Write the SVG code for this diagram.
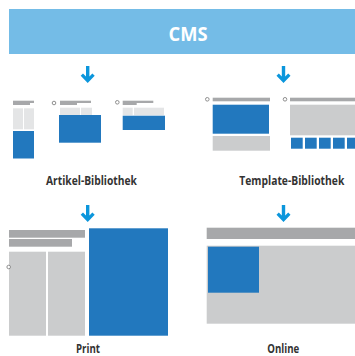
<svg xmlns="http://www.w3.org/2000/svg" width="355" height="356" viewBox="0 0 355 356">
<style>
.dk{fill:#a7a8aa}
.lt{fill:#cbcccd}
.xl{fill:#e4e5e6}
.bl{fill:#2278be}
.ci{fill:#fff;stroke:#8f8f8f;stroke-width:1}
.lbl{font-family:"Open Sans","Liberation Sans",sans-serif;font-weight:700;font-size:11.5px;fill:#333;text-anchor:middle}
.arr{fill:#0b96dc}
</style>
<defs>
<path id="arrow" d="M-1.7,0 H1.7 V10.5 L4.7,7.5 L7,9.8 L0,17 L-7,9.8 L-4.7,7.5 L-1.7,10.5 Z"/>
</defs>
<rect width="355" height="356" fill="#fff"/>
<g id="cms">
<rect x="9" y="9" width="346" height="45" fill="#74bce7"/>
<text x="188" y="41" font-family="Open Sans, Liberation Sans, sans-serif" font-weight="700" font-size="19" fill="#fff" text-anchor="middle" textLength="39" lengthAdjust="spacingAndGlyphs">CMS</text>
</g>
<g id="connectors" class="arr">
<use href="#arrow" x="87.7" y="66"/>
<use href="#arrow" x="283.5" y="66"/>
<use href="#arrow" x="87.7" y="205"/>
<use href="#arrow" x="283.5" y="205"/>
</g>
<g id="artikel-bibliothek">
<rect class="dk" x="13" y="100.7" width="21" height="2.3"/>
<rect class="dk" x="13" y="103" width="17" height="2"/>
<rect class="xl" x="13" y="108.3" width="10" height="21"/>
<rect class="xl" x="24" y="108.3" width="10" height="21"/>
<rect class="bl" x="13" y="131" width="21" height="27.5"/>
<circle class="ci" cx="54" cy="103" r="1.8"/>
<rect class="dk" x="60" y="100.7" width="31" height="2.3"/>
<rect class="dk" x="60" y="103" width="17" height="2"/>
<rect class="xl" x="60" y="107.7" width="20" height="7.5"/>
<rect class="xl" x="81" y="107.7" width="11" height="7.5"/>
<rect class="bl" x="59" y="115" width="42" height="27.7"/>
<circle class="ci" cx="117.3" cy="102.3" r="1.8"/>
<rect class="dk" x="122.7" y="100.7" width="30.6" height="2.3"/>
<rect class="dk" x="122.7" y="103" width="14" height="2"/>
<rect class="xl" x="122.7" y="107.7" width="10" height="7.5"/>
<rect class="xl" x="134" y="107.7" width="30" height="7.5"/>
<rect class="bl" x="122.7" y="115.7" width="42.3" height="14.3"/>
<text class="lbl" x="91.5" y="185" textLength="91" lengthAdjust="spacingAndGlyphs">Artikel-Bibliothek</text>
</g>
<g id="template-bibliothek">
<circle class="ci" cx="207.3" cy="99.3" r="1.8"/>
<rect class="dk" x="212.7" y="97.7" width="57.3" height="3.6"/>
<rect class="bl" x="212.7" y="104.7" width="56.3" height="29"/>
<rect class="lt" x="212.7" y="136" width="57.3" height="14.7"/>
<circle class="ci" cx="285" cy="99.3" r="1.8"/>
<rect class="dk" x="290" y="97.7" width="65" height="3.6"/>
<rect class="lt" x="290" y="104.7" width="65" height="30.6"/>
<rect class="bl" x="291" y="137.7" width="11.7" height="11"/>
<rect class="bl" x="305" y="137.7" width="11.7" height="11"/>
<rect class="bl" x="319" y="137.7" width="11.7" height="11"/>
<rect class="bl" x="333" y="137.7" width="11.7" height="11"/>
<rect class="bl" x="347" y="137.7" width="8" height="11"/>
<text class="lbl" x="291.8" y="185" textLength="105" lengthAdjust="spacingAndGlyphs">Template-Bibliothek</text>
</g>
<g id="print">
<rect class="dk" x="9" y="230" width="76" height="7.7"/>
<rect class="dk" x="9" y="239" width="63" height="7.7"/>
<rect class="lt" x="9" y="251.7" width="37" height="84"/>
<rect class="lt" x="48" y="251.7" width="37" height="84"/>
<rect class="bl" x="89" y="228.3" width="79" height="107.4"/>
<circle class="ci" cx="8.7" cy="267" r="1.8"/>
<text class="lbl" x="88" y="353" textLength="24" lengthAdjust="spacingAndGlyphs">Print</text>
</g>
<g id="online">
<rect class="dk" x="206.7" y="227.7" width="148.3" height="11.3"/>
<rect class="lt" x="206.7" y="245.7" width="148.3" height="78"/>
<rect class="bl" x="208" y="246.7" width="51" height="46"/>
<text class="lbl" x="283.3" y="353" textLength="32" lengthAdjust="spacingAndGlyphs">Online</text>
</g>
</svg>
